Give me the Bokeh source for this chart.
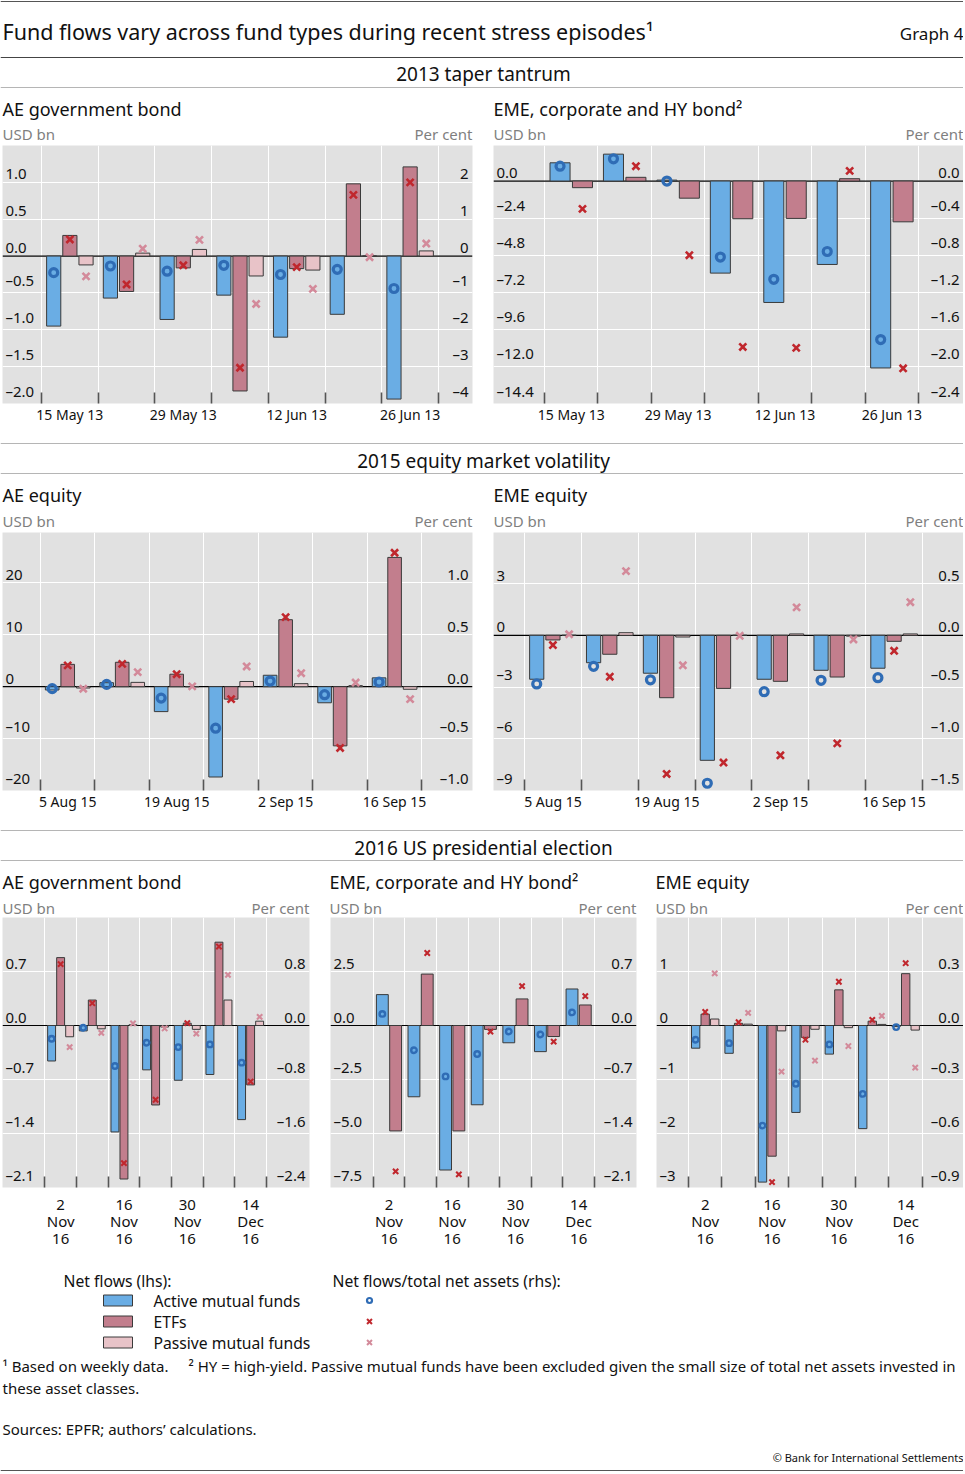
from bokeh.plotting import figure
from bokeh.models import Range1d, FixedTicker, Span
from bokeh.layouts import column, row
from bokeh.embed import file_html
from bokeh.resources import INLINE
from bokeh.core.properties import value

FONT = "Noto Sans"
W = 963

# ---------------- data ----------------
weeks_2013 = ["15 May 13", "22 May 13", "29 May 13", "5 Jun 13", "12 Jun 13", "19 Jun 13", "26 Jun 13"]
weeks_2015 = ["5 Aug 15", "12 Aug 15", "19 Aug 15", "26 Aug 15", "2 Sep 15", "9 Sep 15", "16 Sep 15"]
weeks_2016 = ["2 Nov 16", "9 Nov 16", "16 Nov 16", "23 Nov 16", "30 Nov 16", "7 Dec 16", "14 Dec 16"]

# 2013 taper tantrum - AE government bond
ae_bond13_active = [-0.95, -0.57, -0.86, -0.53, -1.10, -0.79, -1.94]
ae_bond13_etf = [0.28, -0.48, -0.16, -1.83, -0.17, 0.98, 1.21]
ae_bond13_passive = [-0.12, 0.04, 0.09, -0.27, -0.19, 0.0, 0.07]
ae_bond13_active_pct = [-0.45, -0.27, -0.41, -0.25, -0.50, -0.36, -0.88]
ae_bond13_etf_pct = [0.45, -0.77, -0.25, -3.03, -0.30, 1.66, 2.0]
ae_bond13_passive_pct = [-0.55, 0.20, 0.44, -1.30, -0.89, -0.03, 0.34]

# 2013 taper tantrum - EME, corporate and HY bond
eme_bond13_active = [1.18, 1.74, 0.06, -5.96, -7.86, -5.40, -12.10]
eme_bond13_etf = [-0.43, 0.24, -1.11, -2.44, -2.42, 0.15, -2.64]
eme_bond13_active_pct = [0.16, 0.24, 0.0, -0.82, -1.06, -0.76, -1.71]
eme_bond13_etf_pct = [-0.30, 0.16, -0.80, -1.79, -1.80, 0.11, -2.02]

# 2015 equity market volatility - AE equity
ae_eq15_active = [-0.64, 0.77, -4.8, -17.4, 2.2, -3.1, 1.7]
ae_eq15_etf = [4.3, 4.7, 2.4, -2.4, 12.9, -11.4, 24.9]
ae_eq15_passive = [-0.26, 0.83, 0.0, 1.0, 0.58, 0.2, -0.5]
ae_eq15_active_pct = [-0.019, 0.022, -0.11, -0.40, 0.054, -0.077, 0.045]
ae_eq15_etf_pct = [0.205, 0.22, 0.12, -0.12, 0.67, -0.59, 1.29]
ae_eq15_passive_pct = [-0.02, 0.14, 0.003, 0.195, 0.13, 0.04, -0.12]

# 2015 equity market volatility - EME equity
eme_eq15_active = [-2.55, -1.59, -2.2, -7.25, -2.55, -2.03, -1.91]
eme_eq15_etf = [-0.27, -1.10, -3.62, -3.08, -2.67, -2.42, -0.35]
eme_eq15_passive = [0.0, 0.15, -0.1, 0.0, 0.08, -0.05, 0.08]
eme_eq15_active_pct = [-0.47, -0.30, -0.43, -1.43, -0.545, -0.435, -0.41]
eme_eq15_etf_pct = [-0.094, -0.40, -1.34, -1.23, -1.16, -1.045, -0.15]
eme_eq15_passive_pct = [0.01, 0.62, -0.29, -0.005, 0.27, -0.04, 0.32]

# 2016 US presidential election - AE government bond
ae_bond16_active = [-0.46, -0.07, -1.38, -0.575, -0.71, -0.635, -1.22]
ae_bond16_etf = [0.88, 0.33, -1.99, -1.03, 0.03, 1.08, -0.77]
ae_bond16_passive = [-0.146, -0.043, 0.01, -0.02, -0.05, 0.33, 0.056]
ae_bond16_active_pct = [-0.196, -0.034, -0.60, -0.255, -0.32, -0.28, -0.55]
ae_bond16_etf_pct = [0.91, 0.33, -2.04, -1.10, 0.034, 1.17, -0.83]
ae_bond16_passive_pct = [-0.32, -0.108, 0.03, -0.044, -0.12, 0.75, 0.128]

# 2016 US presidential election - EME, corporate and HY bond
eme_bond16_active = [1.43, -3.30, -6.69, -3.67, -0.80, -1.21, 1.69]
eme_bond16_etf = [-4.88, 2.38, -4.88, -0.18, 1.23, -0.51, 0.95]
eme_bond16_active_pct = [0.15, -0.32, -0.66, -0.37, -0.077, -0.116, 0.17]
eme_bond16_etf_pct = [-1.89, 0.94, -1.93, -0.08, 0.51, -0.21, 0.38]

# 2016 US presidential election - EME equity
eme_eq16_active = [-0.42, -0.515, -2.90, -1.61, -0.53, -1.91, -0.02]
eme_eq16_etf = [0.21, 0.04, -2.42, -0.22, 0.66, 0.08, 0.96]
eme_eq16_passive = [0.12, 0.025, -0.10, -0.07, -0.04, 0.02, -0.085]
eme_eq16_active_pct = [-0.079, -0.098, -0.556, -0.324, -0.105, -0.38, -0.009]
eme_eq16_etf_pct = [0.075, 0.018, -0.87, -0.079, 0.243, 0.031, 0.346]
eme_eq16_passive_pct = [0.29, 0.07, -0.256, -0.195, -0.114, 0.053, -0.234]

# axis ticks (lhs / rhs)
t_ae_bond13 = [1.0, 0.5, 0.0, -0.5, -1.0, -1.5, -2.0]; r_ae_bond13 = [2, 1, 0, -1, -2, -3, -4]
t_eme_bond13 = [0.0, -2.4, -4.8, -7.2, -9.6, -12.0, -14.4]; r_eme_bond13 = [0.0, -0.4, -0.8, -1.2, -1.6, -2.0, -2.4]
t_ae_eq15 = [20, 10, 0, -10, -20]; r_ae_eq15 = [1.0, 0.5, 0.0, -0.5, -1.0]
t_eme_eq15 = [3, 0, -3, -6, -9]; r_eme_eq15 = [0.5, 0.0, -0.5, -1.0, -1.5]
t_ae_bond16 = [0.7, 0.0, -0.7, -1.4, -2.1]; r_ae_bond16 = [0.8, 0.0, -0.8, -1.6, -2.4]
t_eme_bond16 = [2.5, 0.0, -2.5, -5.0, -7.5]; r_eme_bond16 = [0.7, 0.0, -0.7, -1.4, -2.1]
t_eme_eq16 = [1, 0, -1, -2, -3]; r_eme_eq16 = [0.3, 0.0, -0.3, -0.6, -0.9]

# ---------------- styles ----------------
C_ACT, C_ETF, C_PAS = "#6aade4", "#c27e8d", "#e8c3c8"
M_ACT, M_ETF, M_PAS = "#2f6cb5", "#c0272d", "#d38a9a"
BG = "#e1e1e1"
OUTLINE = "#3a3a3a"
UNIT = "#7f7f7f"


def fmt(v, d):
    return f"{v:.{d}f}".replace("-", "\u2013")


def panel(width, lb, rb, height, bb, weeks, multiline, xr, yr, lt, ld, rt, rd,
          series, big=True):
    ratio = rt[0] / lt[0] if lt[0] != 0 else rt[1] / lt[1]
    p = figure(width=width, height=height, x_range=Range1d(*xr), y_range=Range1d(*yr),
               toolbar_location=None, output_backend="svg", y_axis_location=None,
               min_border_left=lb, min_border_right=rb, min_border_top=0,
               min_border_bottom=bb)
    p.extra_y_ranges = {"r": Range1d(yr[0] * ratio, yr[1] * ratio)}
    p.background_fill_color = BG
    p.border_fill_color = "white"
    p.outline_line_color = None
    n = len(weeks)
    bounds = list(range(n + 1))
    p.xgrid.ticker = FixedTicker(ticks=bounds)
    p.xgrid.grid_line_color = "white"
    p.xgrid.grid_line_width = 1
    p.ygrid.ticker = FixedTicker(ticks=lt)
    p.ygrid.grid_line_color = "white"
    p.ygrid.grid_line_width = 1.2
    p.add_layout(Span(location=0, dimension="width", line_color="black",
                      line_width=1.2, level="underlay"))

    k = len(series)
    if k == 3:
        offs, bw = [-0.285, 0.0, 0.285], 0.25
    else:
        offs, bw = [-0.21, 0.21], 0.375
    if big:
        csz, clw, xsz, xlw = 8, 3.2, 10, 2.6
    else:
        csz, clw, xsz, xlw = 5.5, 2.4, 7.5, 2.1
    for (vals, pcts, fill, mcol, mk), off in zip(series, offs):
        xs = [i + 0.5 + off for i in range(n)]
        p.vbar(x=xs, top=vals, bottom=0, width=bw, fill_color=fill,
               line_color=OUTLINE, line_width=1)
    for (vals, pcts, fill, mcol, mk), off in zip(series, offs):
        xs = [i + 0.5 + off for i in range(n)]
        if mk == "circle":
            p.scatter(x=xs, y=pcts, marker="circle", size=csz, line_color=mcol,
                      fill_color=None, line_width=clw, y_range_name="r")
        else:
            p.scatter(x=xs, y=pcts, marker="x", size=xsz, line_color=mcol,
                      line_width=xlw, y_range_name="r")

    # tick labels inside the plot area
    p.text(x=[xr[0]] * len(lt), y=lt, text=[fmt(v, ld) for v in lt], x_offset=3,
           y_offset=-3, text_align="left", text_baseline="bottom", text_font=value(FONT),
           text_font_size="15px", text_color="#111111")
    p.text(x=[xr[1]] * len(rt), y=rt, text=[fmt(v, rd) for v in rt], x_offset=-4,
           y_offset=-3, text_align="right", text_baseline="bottom", text_font=value(FONT),
           text_font_size="15px", text_color="#111111", y_range_name="r")

    ax = p.xaxis[0]
    centers = [i + 0.5 for i in range(0, n, 2)]
    ax.ticker = FixedTicker(ticks=centers, minor_ticks=bounds)
    labs = {}
    for i in range(0, n, 2):
        lab = weeks[i].replace(" ", "\n") if multiline else weeks[i]
        labs[i + 0.5] = lab
    ax.major_label_overrides = labs
    ax.axis_line_color = None
    ax.major_tick_line_color = None
    ax.major_tick_in = 0
    ax.major_tick_out = 0
    ax.minor_tick_in = 11
    ax.minor_tick_out = 0
    ax.minor_tick_line_color = "#555555"
    ax.minor_tick_line_width = 1.6
    ax.major_label_text_font = FONT
    ax.major_label_text_color = "#111111"
    if multiline:
        ax.major_label_standoff = 6
        ax.major_label_text_font_size = "15px"
        ax.major_label_text_line_height = 0.85
    else:
        ax.major_label_standoff = 1
        ax.major_label_text_font_size = "14px"
    return p


def strip(h):
    s = figure(width=W, height=h, x_range=Range1d(0, W), y_range=Range1d(h, 0),
               toolbar_location=None, output_backend="svg", x_axis_location=None,
               y_axis_location=None, min_border=0)
    s.outline_line_color = None
    s.grid.visible = False
    s.background_fill_color = "white"
    s.border_fill_color = "white"
    return s


def txt(s, x, y, t, size, align="left", color="#111111"):
    s.text(x=[x], y=[y], text=[t], text_align=align, text_baseline="middle",
           text_font=value(FONT), text_font_size=size, text_color=color)


def hline(s, y, color="#b5b5b5", lw=1.0):
    s.segment(x0=[0], y0=[y], x1=[W], y1=[y], line_color=color, line_width=lw)


# ---------------- header strip ----------------
s0 = strip(145)
hline(s0, 1, "#555555", 1.2)
txt(s0, 2, 31, "Fund flows vary across fund types during recent stress episodes\u00b9", "21.5px")
txt(s0, W, 33, "Graph 4", "17px", "right")
hline(s0, 57, "#444444", 1.2)
txt(s0, 483, 73, "2013 taper tantrum", "19px", "center")
hline(s0, 87)
txt(s0, 2, 108, "AE government bond", "18px")
txt(s0, 493, 108, "EME, corporate and HY bond\u00b2", "18px")
txt(s0, 2, 133, "USD bn", "15px", color=UNIT)
txt(s0, 472, 133, "Per cent", "15px", "right", UNIT)
txt(s0, 493, 133, "USD bn", "15px", color=UNIT)
txt(s0, W, 133, "Per cent", "15px", "right", UNIT)

p1 = panel(482, 2, 10, 290, 32, weeks_2013, False, (-0.688, 7.6), (-2.0, 1.5),
           t_ae_bond13, 1, r_ae_bond13, 0,
           [(ae_bond13_active, ae_bond13_active_pct, C_ACT, M_ACT, "circle"),
            (ae_bond13_etf, ae_bond13_etf_pct, C_ETF, M_ETF, "x"),
            (ae_bond13_passive, ae_bond13_passive_pct, C_PAS, M_PAS, "x")])
p2 = panel(481, 11, 0, 290, 32, weeks_2013, False, (-0.955, 7.84), (-14.4, 2.3),
           t_eme_bond13, 1, r_eme_bond13, 1,
           [(eme_bond13_active, eme_bond13_active_pct, C_ACT, M_ACT, "circle"),
            (eme_bond13_etf, eme_bond13_etf_pct, C_ETF, M_ETF, "x")])

s1 = strip(97)
hline(s1, 8)
txt(s1, 483, 25, "2015 equity market volatility", "19px", "center")
hline(s1, 38)
txt(s1, 2, 59, "AE equity", "18px")
txt(s1, 493, 59, "EME equity", "18px")
txt(s1, 2, 85, "USD bn", "15px", color=UNIT)
txt(s1, 472, 85, "Per cent", "15px", "right", UNIT)
txt(s1, 493, 85, "USD bn", "15px", color=UNIT)
txt(s1, W, 85, "Per cent", "15px", "right", UNIT)

p3 = panel(482, 2, 10, 290, 32, weeks_2015, False, (-0.697, 7.93), (-20, 29.7),
           t_ae_eq15, 0, r_ae_eq15, 1,
           [(ae_eq15_active, ae_eq15_active_pct, C_ACT, M_ACT, "circle"),
            (ae_eq15_etf, ae_eq15_etf_pct, C_ETF, M_ETF, "x"),
            (ae_eq15_passive, ae_eq15_passive_pct, C_PAS, M_PAS, "x")])
p4 = panel(481, 11, 0, 290, 32, weeks_2015, False, (-0.545, 7.72), (-9, 5.96),
           t_eme_eq15, 0, r_eme_eq15, 1,
           [(eme_eq15_active, eme_eq15_active_pct, C_ACT, M_ACT, "circle"),
            (eme_eq15_etf, eme_eq15_etf_pct, C_ETF, M_ETF, "x"),
            (eme_eq15_passive, eme_eq15_passive_pct, C_PAS, M_PAS, "x")])

s2 = strip(95)
hline(s2, 8)
txt(s2, 483, 25, "2016 US presidential election", "19px", "center")
hline(s2, 38)
for x0, x1, name in [(2, 309, "AE government bond"), (329, 636, "EME, corporate and HY bond\u00b2"),
                     (655, W, "EME equity")]:
    txt(s2, x0, 59, name, "18px")
    txt(s2, x0, 85, "USD bn", "15px", color=UNIT)
    txt(s2, x1, 85, "Per cent", "15px", "right", UNIT)

p5 = panel(319, 2, 10, 338, 68, weeks_2016, True, (-1.336, 8.36), (-2.1, 1.4),
           t_ae_bond16, 1, r_ae_bond16, 1,
           [(ae_bond16_active, ae_bond16_active_pct, C_ACT, M_ACT, "circle"),
            (ae_bond16_etf, ae_bond16_etf_pct, C_ETF, M_ETF, "x"),
            (ae_bond16_passive, ae_bond16_passive_pct, C_PAS, M_PAS, "x")], big=False)
p6 = panel(327, 11, 10, 338, 68, weeks_2016, True, (-1.35, 8.33), (-7.5, 5.0),
           t_eme_bond16, 1, r_eme_bond16, 1,
           [(eme_bond16_active, eme_bond16_active_pct, C_ACT, M_ACT, "circle"),
            (eme_bond16_etf, eme_bond16_etf_pct, C_ETF, M_ETF, "x")], big=False)
p7 = panel(317, 10, 0, 338, 68, weeks_2016, True, (-0.957, 8.23), (-3, 2),
           t_eme_eq16, 0, r_eme_eq16, 1,
           [(eme_eq16_active, eme_eq16_active_pct, C_ACT, M_ACT, "circle"),
            (eme_eq16_etf, eme_eq16_etf_pct, C_ETF, M_ETF, "x"),
            (eme_eq16_passive, eme_eq16_passive_pct, C_PAS, M_PAS, "x")], big=False)

# ---------------- legend & footnotes ----------------
s3 = strip(217)
txt(s3, 63, 25, "Net flows (lhs):", "15.7px")
txt(s3, 332, 25, "Net flows/total net assets (rhs):", "15.7px")
leg_names = ["Active mutual funds", "ETFs", "Passive mutual funds"]
leg_fill = [C_ACT, C_ETF, C_PAS]
leg_y = [45, 66, 87]
s3.rect(x=[117.5] * 3, y=leg_y, width=29, height=11, fill_color=leg_fill,
        line_color=OUTLINE, line_width=1)
for nm, yy in zip(leg_names, leg_y):
    txt(s3, 153, yy, nm, "15.7px")
s3.scatter(x=[369], y=[leg_y[0]], marker="circle", size=5, line_color=M_ACT,
           fill_color=None, line_width=2.2)
s3.scatter(x=[369], y=[leg_y[1]], marker="x", size=7, line_color=M_ETF, line_width=2)
s3.scatter(x=[369], y=[leg_y[2]], marker="x", size=7, line_color=M_PAS, line_width=2)

txt(s3, 2, 110, "\u00b9  Based on weekly data.", "15px")
txt(s3, 188, 110, "\u00b2  HY = high-yield. Passive mutual funds have been excluded given the small size of total net assets invested in", "15px")
txt(s3, 2, 132, "these asset classes.", "15px")
txt(s3, 2, 173, "Sources: EPFR; authors\u2019 calculations.", "15px")
txt(s3, W, 202, "\u00a9 Bank for International Settlements", "11px", "right")
hline(s3, 215, "#555555", 1.0)

layout = column(s0, row(p1, p2, spacing=0), s1, row(p3, p4, spacing=0), s2,
                row(p5, p6, p7, spacing=0), s3, spacing=0)

open("out.html", "w").write(file_html(layout, INLINE))
